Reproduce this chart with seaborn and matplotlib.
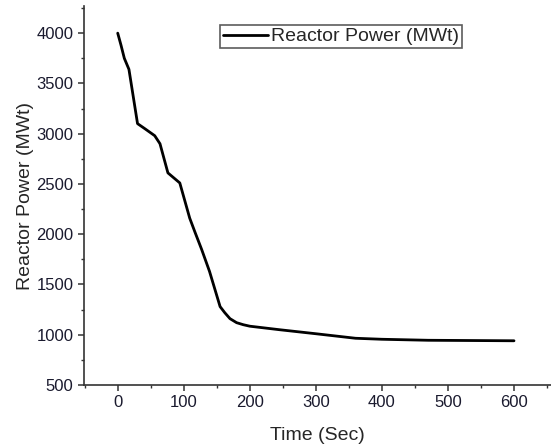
# plot.py
# -------
# Reactor power transient after shutdown, redrawn with seaborn.

import matplotlib
matplotlib.use("Agg")
import matplotlib.pyplot as plt
from matplotlib.ticker import MultipleLocator
import pandas as pd
import seaborn as sns


# ---------------------------------------------------------------------------
# Data
# ---------------------------------------------------------------------------

time_sec = [0, 5, 10, 17, 30, 41, 56, 64, 76, 94, 109, 117, 127, 139,
            155, 162, 170, 180, 190, 200, 245, 300, 340, 360, 400, 470, 600]
power_mwt = [4000, 3880, 3750, 3640, 3100, 3050, 2980, 2900, 2610, 2510,
             2160, 2020, 1850, 1630, 1280, 1220, 1160, 1120, 1100, 1085,
             1050, 1010, 980, 965, 955, 945, 940]
series_label = "Reactor Power (MWt)"

df = pd.DataFrame({"Time": time_sec, "Power": power_mwt})


# ---------------------------------------------------------------------------
# Figure
# ---------------------------------------------------------------------------

sns.set_style("ticks")
plt.rcParams["font.family"] = ["Liberation Sans", "DejaVu Sans"]

fig = plt.figure(figsize=(5.51, 4.48), dpi=100)
ax = fig.add_axes([0.1525, 0.1406, 0.8475, 0.846])

sns.lineplot(data=df, x="Time", y="Power", color="black", linewidth=2.0,
             label=series_label, ax=ax)

ax.set_xlim(-51, 656)
ax.set_ylim(500, 4270)
ax.xaxis.set_major_locator(MultipleLocator(100))
ax.xaxis.set_minor_locator(MultipleLocator(50))
ax.yaxis.set_major_locator(MultipleLocator(500))
ax.yaxis.set_minor_locator(MultipleLocator(250))

# only the left and bottom axes are visible in the original (cropped box)
for side in ("top", "right"):
    ax.spines[side].set_visible(False)
for side in ("left", "bottom"):
    ax.spines[side].set_linewidth(1.2)
    ax.spines[side].set_color("#333333")

ax.tick_params(which="major", direction="out", length=4, width=1.1,
               labelsize=12, colors="#333333", labelcolor="#1a1a2e")
ax.tick_params(which="minor", direction="out", length=2.5, width=1.0,
               colors="#333333")

ax.set_xlabel("Time (Sec)", fontsize=14, labelpad=12)
ax.set_ylabel("Reactor Power (MWt)", fontsize=14, labelpad=2)

leg = ax.legend(loc="upper left", bbox_to_anchor=(0.291, 0.95),
                borderaxespad=0, fontsize=14, frameon=True, fancybox=False,
                handlelength=2.3, handletextpad=0.2, borderpad=0.15)
leg.get_frame().set_edgecolor("#333333")
leg.get_frame().set_linewidth(1.2)

fig.savefig("out.png", dpi=100)
